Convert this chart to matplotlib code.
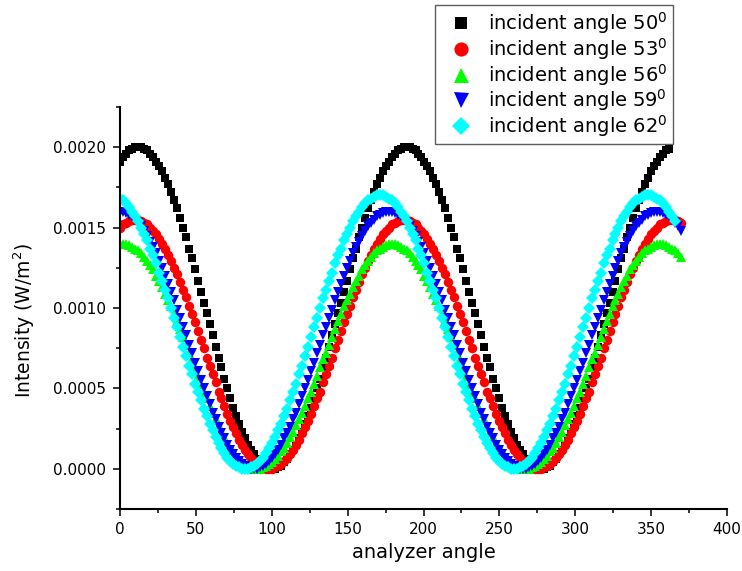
import numpy as np
import matplotlib
matplotlib.use("Agg")
import matplotlib.pyplot as plt
from matplotlib.ticker import MultipleLocator, FormatStrFormatter

plt.rcParams['font.family'] = ['DejaVu Sans']
plt.rcParams['mathtext.fontset'] = 'dejavusans'

# analyzer angle spacing between successive readings (degrees), starting at 0
ANGLE_STEP = 1.967

# intensities in units of 1e-5 W/m^2
angle50_e5 = [191, 194, 196, 198, 199, 200, 200,
    200, 199, 198, 196, 194, 191, 188, 185, 181, 177, 172, 167, 162, 156, 150, 144, 137, 131, 124, 117, 110, 103, 97, 90, 83, 76, 69, 63, 56, 50, 44, 38, 33, 28, 23, 19, 15, 12, 9, 6, 4, 2, 1, 0, 0,
    0, 1, 2, 4, 6, 9, 12, 15, 19, 23, 28, 33, 38, 44, 50, 56, 63, 69, 76, 83, 90, 97, 103, 110, 117, 124, 131, 137, 144, 150, 156, 162, 167, 172, 177, 181, 185, 188, 191, 194, 196, 198, 199, 200, 200,
    200, 199, 198, 196, 194, 191, 188, 185, 181, 177, 172, 167, 162, 156, 150, 144, 137, 131, 124, 117, 110, 103, 97, 90, 83, 76, 69, 63, 56, 50, 44, 38, 33, 28, 23, 19, 15, 12, 9, 6, 4, 2, 1, 0, 0,
    0, 1, 2, 4, 6, 9, 12, 15, 19, 23, 28, 33, 38, 44, 50, 56, 63, 69, 76, 83, 90, 97, 103, 110, 117, 124, 131, 137, 144, 150, 156, 162, 167, 172, 177, 181, 185, 188, 191, 194, 196, 198, 199]

angle53_e5 = [150, 152, 153, 154, 155, 155,
    155, 154, 153, 152, 150, 148, 146, 143, 140, 137, 133, 129, 125, 121, 116, 111, 107, 101, 96, 91, 86, 80, 75, 69, 64, 59, 54, 48, 44, 39, 34, 30, 26, 22, 18, 15, 12, 9, 7, 5, 3, 2, 1, 0, 0,
    0, 1, 2, 3, 5, 7, 9, 12, 15, 18, 22, 26, 30, 34, 39, 44, 48, 54, 59, 64, 69, 75, 80, 86, 91, 96, 101, 107, 111, 116, 121, 125, 129, 133, 137, 140, 143, 146, 148, 150, 152, 153, 154, 155, 155,
    155, 154, 153, 152, 150, 148, 146, 143, 140, 137, 133, 129, 125, 121, 116, 111, 107, 101, 96, 91, 86, 80, 75, 69, 64, 59, 54, 48, 44, 39, 34, 30, 26, 22, 18, 15, 12, 9, 7, 5, 3, 2, 1, 0, 0,
    0, 1, 2, 3, 5, 7, 9, 12, 15, 18, 22, 26, 30, 34, 39, 44, 48, 54, 59, 64, 69, 75, 80, 86, 91, 96, 101, 107, 111, 116, 121, 125, 129, 133, 137, 140, 143, 146, 148, 150, 152, 153, 154, 155, 155,
    155, 154, 153]

angle56_e5 = [140, 140,
    140, 139, 138, 137, 136, 134, 132, 129, 127, 124, 120, 117, 113, 109, 105, 101, 96, 92, 87, 82, 77, 72, 68, 63, 58, 53, 48, 44, 39, 35, 31, 27, 23, 20, 16, 13, 11, 8, 6, 4, 3, 2, 1, 0, 0,
    0, 1, 2, 3, 4, 6, 8, 11, 13, 16, 20, 23, 27, 31, 35, 39, 44, 48, 53, 58, 63, 68, 72, 77, 82, 87, 92, 96, 101, 105, 109, 113, 117, 120, 124, 127, 129, 132, 134, 136, 137, 138, 139, 140, 140,
    140, 139, 138, 137, 136, 134, 132, 129, 127, 124, 120, 117, 113, 109, 105, 101, 96, 92, 87, 82, 77, 72, 68, 63, 58, 53, 48, 44, 39, 35, 31, 27, 23, 20, 16, 13, 11, 8, 6, 4, 3, 2, 1, 0, 0,
    0, 1, 2, 3, 4, 6, 8, 11, 13, 16, 20, 23, 27, 31, 35, 39, 44, 48, 53, 58, 63, 68, 72, 77, 82, 87, 92, 96, 101, 105, 109, 113, 117, 120, 124, 127, 129, 132, 134, 136, 137, 138, 139, 140, 140,
    140, 139, 138, 137, 136, 134, 132]

angle59_e5 = [160, 160, 159, 158, 157, 155, 153, 151, 148, 145, 141, 138, 134, 129, 125, 120, 115, 110, 105, 99, 94, 88, 83, 77, 72, 66, 61, 55, 50, 45, 40, 35, 31, 26, 22, 19, 15, 12, 9, 7, 5, 3, 2, 1, 0, 0,
    0, 1, 2, 3, 5, 7, 9, 12, 15, 19, 22, 26, 31, 35, 40, 45, 50, 55, 61, 66, 72, 77, 83, 88, 94, 99, 105, 110, 115, 120, 125, 129, 134, 138, 141, 145, 148, 151, 153, 155, 157, 158, 159, 160, 160,
    160, 159, 158, 157, 155, 153, 151, 148, 145, 141, 138, 134, 129, 125, 120, 115, 110, 105, 99, 94, 88, 83, 77, 72, 66, 61, 55, 50, 45, 40, 35, 31, 26, 22, 19, 15, 12, 9, 7, 5, 3, 2, 1, 0, 0,
    0, 1, 2, 3, 5, 7, 9, 12, 15, 19, 22, 26, 31, 35, 40, 45, 50, 55, 61, 66, 72, 77, 83, 88, 94, 99, 105, 110, 115, 120, 125, 129, 134, 138, 141, 145, 148, 151, 153, 155, 157, 158, 159, 160, 160,
    160, 159, 158, 157, 155, 153, 151, 148]

angle62_e5 = [168, 167, 165, 163, 160, 157, 154, 150, 146, 142, 137, 133, 128, 122, 117, 111, 106, 100, 94, 88, 82, 76, 70, 64, 59, 53, 48, 43, 37, 33, 28, 24, 20, 16, 13, 10, 7, 5, 3, 2, 1, 0, 0,
    0, 1, 2, 3, 5, 7, 10, 13, 16, 20, 24, 28, 33, 37, 43, 48, 53, 59, 64, 70, 76, 82, 88, 94, 100, 106, 111, 117, 122, 128, 133, 137, 142, 146, 150, 154, 157, 160, 163, 165, 167, 168, 169, 170, 170,
    170, 169, 168, 167, 165, 163, 160, 157, 154, 150, 146, 142, 137, 133, 128, 122, 117, 111, 106, 100, 94, 88, 82, 76, 70, 64, 59, 53, 48, 43, 37, 33, 28, 24, 20, 16, 13, 10, 7, 5, 3, 2, 1, 0, 0,
    0, 1, 2, 3, 5, 7, 10, 13, 16, 20, 24, 28, 33, 37, 43, 48, 53, 59, 64, 70, 76, 82, 88, 94, 100, 106, 111, 117, 122, 128, 133, 137, 142, 146, 150, 154, 157, 160, 163, 165, 167, 168, 169, 170, 170,
    170, 169, 168, 167, 165, 163, 160, 157, 154]

labels = ['incident angle 50$^\\mathregular{0}$', 'incident angle 53$^\\mathregular{0}$',
          'incident angle 56$^\\mathregular{0}$', 'incident angle 59$^\\mathregular{0}$',
          'incident angle 62$^\\mathregular{0}$']
series = [angle50_e5, angle53_e5, angle56_e5, angle59_e5, angle62_e5]
colors = ['#000000', '#FF0000', '#00FF00', '#0000FF', '#00FFFF']
markers = ['s', 'o', '^', 'v', 'D']
msizes = [5.8, 6.8, 7.2, 7.2, 5.8]

xticks = [0, 50, 100, 150, 200, 250, 300, 350, 400]
yticks = [0.0, 0.0005, 0.0010, 0.0015, 0.0020]

fig = plt.figure(figsize=(7.42, 5.71), dpi=100)
ax = fig.add_axes([120 / 742, 62 / 571, 607 / 742, 402 / 571])

for vals, lab, c, m, ms in zip(series, labels, colors, markers, msizes):
    y = np.array(vals) * 1e-5
    x = np.arange(len(y)) * ANGLE_STEP
    ax.plot(x, y, linestyle='none', marker=m, markersize=ms, color=c,
            markeredgewidth=0, label=lab)

ax.set_xlim(0, 400)
ax.set_ylim(-0.00025, 0.00225)
ax.set_xticks(xticks)
ax.set_yticks(yticks)
ax.xaxis.set_minor_locator(MultipleLocator(25))
ax.yaxis.set_minor_locator(MultipleLocator(0.00025))
ax.yaxis.set_major_formatter(FormatStrFormatter('%.4f'))

for s in ['top', 'right']:
    ax.spines[s].set_visible(False)
for s in ['left', 'bottom']:
    ax.spines[s].set_linewidth(1.5)

ax.tick_params(which='major', direction='out', length=5, width=1.1, labelsize=11, pad=4)
ax.tick_params(which='minor', direction='out', length=3, width=1.1)
ax.tick_params(axis='y', which='major', pad=5)

ax.set_xlabel('analyzer angle', fontsize=14, labelpad=5)
ax.set_ylabel('Intensity (W/m$^\\mathregular{2}$)', fontsize=13.5)
ax.yaxis.set_label_coords(-0.137, 0.468)

leg = ax.legend(loc='upper left', bbox_to_anchor=(435 / 742, 1 - 5 / 571),
                bbox_transform=fig.transFigure, fontsize=14, frameon=True,
                fancybox=False, edgecolor='#333333', markerscale=1.5,
                handlelength=2.2, handletextpad=0.3, labelspacing=0.0,
                borderpad=0.25, borderaxespad=0)
leg.get_frame().set_linewidth(1.0)

fig.savefig('out.png', dpi=100)
